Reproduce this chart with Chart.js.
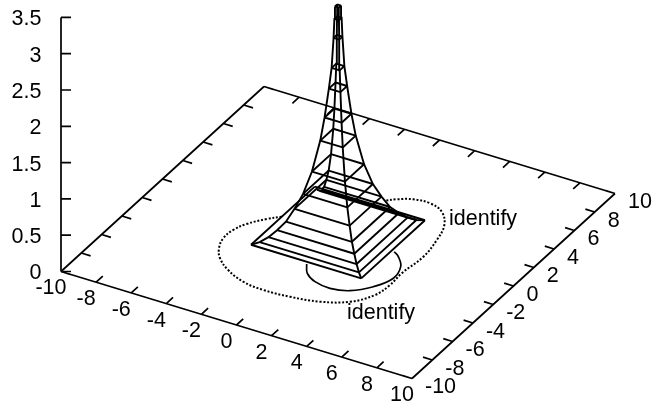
<!doctype html>
<html lang="en">
<head>
  <meta charset="utf-8">
  <title>identify surface</title>
  <script src="https://cdn.jsdelivr.net/npm/chart.js"></script>
  <style>body { margin: 0; background: #fff; }</style>
</head>
<body>
  <canvas id="surfaceChart" width="658" height="402"></canvas>

  <script>
    const xTicks = [-10, -8, -6, -4, -2, 0, 2, 4, 6, 8, 10];
    const yTicks = [-10, -8, -6, -4, -2, 0, 2, 4, 6, 8, 10];
    const zTicks = [0, 0.5, 1, 1.5, 2, 2.5, 3, 3.5];

    // half width of each square ring of the mesh and its height
    const ringHalfWidth = [3.14, 2.83, 2.51, 2.2, 1.88, 1.57, 1.26, 0.94, 0.64, 0.485, 0.33, 0.23, 0.16, 0.13, 0.11];
    const ringHeight = [0, 0.02, 0.07, 0.15, 0.25, 0.41, 0.6, 0.89, 1.3, 1.61, 2.0, 2.28, 2.69, 2.95, 3.12];

    // contours on the base plane, parts not hidden by the surface
    const dottedX = [-3.14, -3.68, -4.3, -4.59, -4.63, -4.34, -3.83, -2.93, -1.74, -0.5, 0.96, 2.47, 3.76, 4.51, 4.68, 4.63, 4.78, 4.57, 4.19, 3.45, 2.56, 1.66, 0.95, 0.52];
    const dottedY = [-0.11, -0.67, -1.57, -2.38, -3.3, -4.22, -5, -5.75, -6.33, -6.5, -6.39, -6.05, -5.31, -4.15, -2.97, -1.73, 0.15, 1.83, 3.23, 4.25, 4.64, 4.55, 4.14, 3.74];
    const solidX = [0.14, 0.6, 1.32, 2.27, 3.24, 4.05, 4.51, 4.28, 3.71, 3.3];
    const solidY = [-3.33, -4.06, -4.55, -4.72, -4.42, -3.52, -2.34, -1.22, -0.47, -0.17];

    const keyLabel = 'identify';

    // view projection of the gnuplot style box
    function project(x, y, z) {
      return {
        x: 338 + 17.55 * x + 10.15 * y,
        y: 232.5 + 5.35 * x - 9.25 * y - 72.6 * z
      };
    }

    const GAP = { x: NaN, y: NaN };

    function segments(list) {
      const out = [];
      list.forEach(s => {
        out.push(project(...s[0]), project(...s[1]), GAP);
      });
      return out;
    }

    // box, ticks
    const boxSegs = [
      [[-10, -10, 0], [10, -10, 0]],
      [[10, -10, 0], [10, 10, 0]],
      [[10, 10, 0], [-10, 10, 0]],
      [[-10, 10, 0], [-10, -10, 0]]
    ];
    xTicks.forEach(t => {
      boxSegs.push([[t, -10, 0], [t, -9.34, 0]]);
      boxSegs.push([[t, 10, 0], [t, 9.34, 0]]);
    });
    yTicks.forEach(t => {
      boxSegs.push([[-10, t, 0], [-9.47, t, 0]]);
      boxSegs.push([[10, t, 0], [9.47, t, 0]]);
    });

    const zAxis = [project(-10, -10, 0), project(-10, -10, 3.5), GAP];
    zTicks.forEach(t => {
      const p = project(-10, -10, t);
      zAxis.push(p, { x: p.x + 10, y: p.y }, GAP);
    });

    // mesh rings, low rings lose the side that the front faces cover
    const ringSegs = [];
    ringHalfWidth.forEach((r, i) => {
      const z = ringHeight[i];
      ringSegs.push([[-r, -r, z], [r, -r, z]]);
      ringSegs.push([[r, -r, z], [r, r, z]]);
      ringSegs.push([[r, r, z], [-r, r, z]]);
      if (i === 0 || r <= 1.57) ringSegs.push([[-r, r, z], [-r, -r, z]]);
    });

    function ridge(sx, sy, from) {
      const pts = [];
      ringHalfWidth.forEach((r, i) => {
        if (i >= from) pts.push(project(sx * r, sy * r, ringHeight[i]));
      });
      return pts;
    }

    function contour(xs, ys) {
      return xs.map((x, i) => project(x, ys[i], 0));
    }

    const line = (data, extra) => Object.assign({
      data, showLine: true, pointRadius: 0, borderColor: '#000',
      borderWidth: 1.9, tension: 0, spanGaps: false
    }, extra);

    const tickLabels = {
      id: 'tickLabels',
      afterDatasetsDraw(chart) {
        const { ctx, scales } = chart;
        const put = (text, p, dx, dy, align) => {
          ctx.textAlign = align;
          ctx.fillText(text, scales.x.getPixelForValue(p.x) + dx, scales.y.getPixelForValue(p.y) + dy);
        };
        ctx.save();
        ctx.font = '21.5px "Liberation Sans"';
        ctx.fillStyle = '#000';
        ctx.textBaseline = 'middle';
        zTicks.forEach(t => put(String(t), project(-10, -10, t), -19.5, 2, 'right'));
        xTicks.forEach(t => put(String(t), project(t, -10, 0), -10, 17, 'center'));
        yTicks.forEach(t => put(String(t), project(10, t, 0), 13, 9, 'left'));
        put(keyLabel, { x: 347, y: 313 }, 0, 0, 'left');
        put(keyLabel, { x: 449, y: 219 }, 0, 0, 'left');
        ctx.restore();
      }
    };

    new Chart(document.getElementById('surfaceChart').getContext('2d'), {
      type: 'scatter',
      data: {
        datasets: [
          line(segments(boxSegs), { borderWidth: 1.7 }),
          line(zAxis, { borderWidth: 1.7 }),
          line(contour(dottedX, dottedY), { tension: 0.4, borderDash: [2, 1.8], borderWidth: 2 }),
          line(contour(solidX, solidY), { tension: 0.4, borderWidth: 1.7 }),
          line(segments(ringSegs)),
          line(ridge(-1, -1, 0)),
          line(ridge(1, -1, 0)),
          line(ridge(1, 1, 0)),
          line(ridge(-1, 1, 3))
        ]
      },
      options: {
        responsive: false,
        animation: false,
        layout: { padding: 0 },
        plugins: { legend: { display: false }, tooltip: { enabled: false } },
        scales: {
          x: { type: 'linear', min: 0, max: 658, display: false },
          y: { type: 'linear', min: 0, max: 402, reverse: true, display: false }
        }
      },
      plugins: [tickLabels]
    });
  </script>
</body>
</html>
